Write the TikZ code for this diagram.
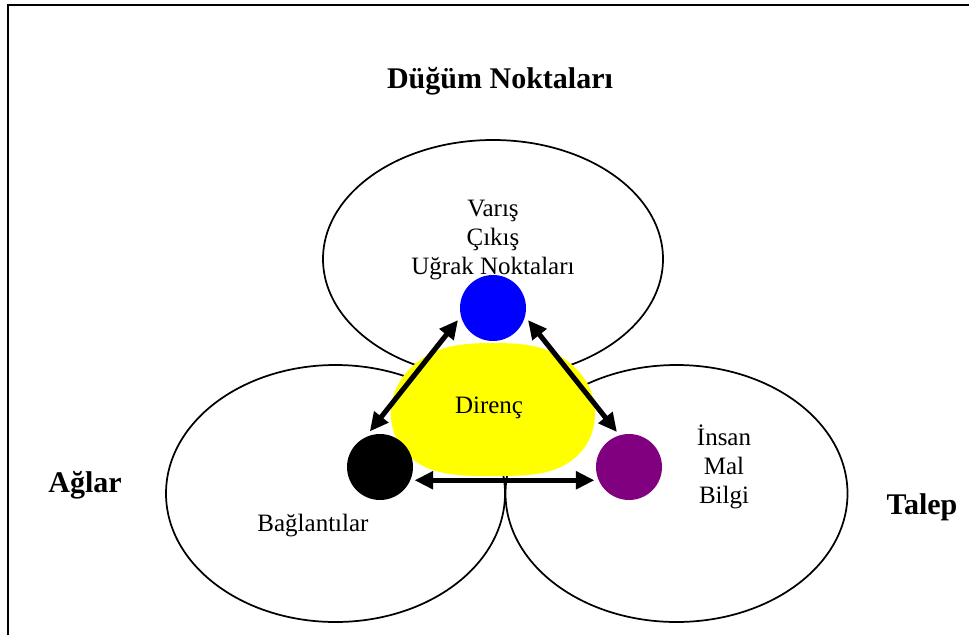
\documentclass[tikz,border=0pt]{standalone}
\usepackage{fontspec}
\setmainfont{Liberation Serif}
\usetikzlibrary{arrows.meta}

\definecolor{dotpurple}{RGB}{128,0,128}
\definecolor{blobyellow}{RGB}{255,255,0}

\tikzset{
    ring/.style={line width=1.3pt},
    dot/.style={circle, minimum size=49.5pt, inner sep=0pt, outer sep=3pt},
    link/.style={line width=3.8pt,
        {Triangle[length=14pt,width=13pt]}-{Triangle[length=14pt,width=13pt]}},
    txt/.style={font=\fontsize{18.75}{21.75}\selectfont, align=center},
    heading/.style={font=\fontsize{22.5}{26}\selectfont\bfseries}
}

\begin{document}
\begin{tikzpicture}[x=0.75pt, y=-0.75pt]

    \useasboundingbox (0,0) rectangle (969,635);

    % Frame, only top and left edges
    \draw[line width=1.5pt] (7.5,635) -- (7.5,5) -- (969,5);

    % Draw the three ellipses
    \draw[ring] (493,259) ellipse [x radius=170, y radius=119];
    \draw[ring] (335.5,493.5) ellipse [x radius=169.5, y radius=128.5];
    \draw[ring] (676.5,493.5) ellipse [x radius=171, y radius=128.5];

    % Yellow area in the middle
    \fill[blobyellow] plot[smooth cycle, tension=0.7] coordinates {
        (493,343) (563,358) (595,410) (568,463)
        (493,476) (418,463) (391,410) (423,358)};
    \node[txt] (resist) at (489,408) {Direnç};

    % Coloured dots
    \node[dot, fill=blue] (dest) at (493,308) {};
    \node[dot, fill=black] (links) at (380,467) {};
    \node[dot, fill=dotpurple] (demand) at (629,467) {};

    % Double headed arrows between the dots
    \draw[link] (dest.199) -- (links.106);
    \draw[link] (dest.341) -- (demand.109);
    \draw[link] (links.-21) -- (demand.201);

    % Texts inside the ellipses
    \node[txt] (nodes) at (493,240) {Varış\\Çıkış\\Uğrak Noktaları};
    \node[txt] (conn) at (313,526) {Bağlantılar};
    \node[txt] (goods) at (724,467) {İnsan\\Mal\\Bilgi};

    % Headings
    \node[heading] (top) at (500,81) {Düğüm Noktaları};
    \node[heading] (left) at (85,485) {Ağlar};
    \node[heading] (right) at (922,507) {Talep};

\end{tikzpicture}
\end{document}
